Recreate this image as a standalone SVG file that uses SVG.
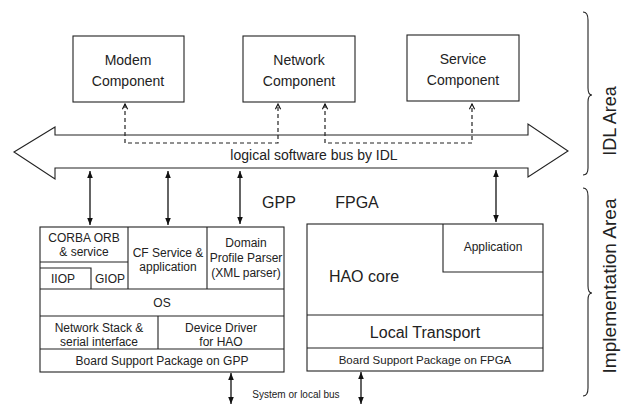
<svg xmlns="http://www.w3.org/2000/svg" width="630" height="406" viewBox="0 0 630 406">
<defs>
<marker id="fa" viewBox="0 0 10 8" refX="10" refY="4" markerWidth="7" markerHeight="6" markerUnits="userSpaceOnUse" orient="auto-start-reverse"><path d="M0,0 L10,4 L0,8 Z" fill="#111"/></marker>
<marker id="oa" viewBox="0 0 8 8" refX="7" refY="4" markerWidth="7" markerHeight="7" markerUnits="userSpaceOnUse" orient="auto-start-reverse"><path d="M1,1 L7,4 L1,7" fill="none" stroke="#111" stroke-width="1.3"/></marker>
</defs>
<style>
text{font-family:"Liberation Sans",Arial,sans-serif;fill:#222;text-anchor:middle}
.bx{fill:#fff;stroke:#222;stroke-width:1.1}
.ln{stroke:#222;stroke-width:1.1;fill:none}
.dl{stroke:#222;stroke-width:1.2;fill:none;stroke-dasharray:4,3}
.sl{stroke:#111;stroke-width:1.3;fill:none}
.t14{font-size:14px}
.t12{font-size:12px}
.t16{font-size:16px}
</style>
<rect width="630" height="406" fill="#fff"/>

<g id="bus">
<polygon class="bx" points="14,152 55,127 55,135 528,135 528,124 568,151 528,177 528,168 55,168 55,179"/>
<text class="t14" x="314" y="160">logical software bus by IDL</text>
</g>

<g id="modem">
<rect class="bx" x="73" y="36" width="111" height="66"/>
<text class="t14" x="128" y="65">Modem</text>
<text class="t14" x="128" y="86">Component</text>
</g>
<g id="network">
<rect class="bx" x="243" y="36" width="112" height="66"/>
<text class="t14" x="299" y="65">Network</text>
<text class="t14" x="299" y="86">Component</text>
</g>
<g id="service">
<rect class="bx" x="407" y="35" width="112" height="66"/>
<text class="t14" x="463" y="64">Service</text>
<text class="t14" x="463" y="85">Component</text>
</g>

<g id="gpp">
<rect class="bx" x="40" y="227" width="244" height="145"/>
<path class="ln" d="M40,262 H128 M40,268 H91 V289 M128,227 V289 M207,227 V289 M40,289 H284 M40,316 H284 M158,316 V349 M40,349 H284"/>
<text class="t12" x="84" y="242">CORBA ORB</text>
<text class="t12" x="84" y="256">&amp; service</text>
<text class="t12" x="63" y="283">IIOP</text>
<text class="t12" x="110" y="283">GIOP</text>
<text class="t12" x="168" y="257">CF Service &amp;</text>
<text class="t12" x="168" y="271">application</text>
<text class="t12" x="246" y="247">Domain</text>
<text class="t12" x="246" y="262">Profile Parser</text>
<text class="t12" x="246" y="277">(XML parser)</text>
<text class="t12" x="162" y="307">OS</text>
<text class="t12" x="99" y="332">Network Stack &amp;</text>
<text class="t12" x="99" y="346">serial interface</text>
<text class="t12" x="221" y="332">Device Driver</text>
<text class="t12" x="221" y="346">for HAO</text>
<text class="t12" x="162" y="365">Board Support Package on GPP</text>
</g>

<g id="fpga">
<rect class="bx" x="307" y="224" width="236" height="147"/>
<path class="ln" d="M443,224 V272 H543 M307,315 H543 M307,348 H543"/>
<text class="t12" x="493" y="251">Application</text>
<text class="t16" x="364" y="282">HAO core</text>
<text class="t16" x="425" y="338">Local Transport</text>
<text style="font-size:11.5px" x="425" y="364">Board Support Package on FPGA</text>
</g>

<g id="labels">
<text class="t16" x="279" y="208">GPP</text>
<text class="t16" x="357" y="208">FPGA</text>
<text style="font-size:10px" x="296" y="398">System or local bus</text>
</g>

<g id="areas">
<path class="ln" d="M583,12 Q588,12 588,20 V88 Q588,95 592,95 Q588,95 588,102 V168 Q588,175 583,175"/>
<text style="font-size:18px" transform="translate(616,121) rotate(-90)">IDL Area</text>
<path class="ln" d="M583,188 Q588,188 588,196 V286 Q588,293 592,293 Q588,293 588,300 V388 Q588,396 583,396"/>
<text style="font-size:18px" transform="translate(616,286) rotate(-90)" textLength="175" lengthAdjust="spacingAndGlyphs">Implementation Area</text>
</g>

<g id="connectors">
<path class="dl" d="M125,104 V143 H278 V104" marker-start="url(#oa)" marker-end="url(#oa)"/>
<path class="dl" d="M325,104 V143 H472 V104" marker-start="url(#oa)" marker-end="url(#oa)"/>
<path class="sl" d="M90,171 V225" marker-start="url(#fa)" marker-end="url(#fa)"/>
<path class="sl" d="M168,171 V225" marker-start="url(#fa)" marker-end="url(#fa)"/>
<path class="sl" d="M240,171 V224" marker-start="url(#fa)" marker-end="url(#fa)"/>
<path class="sl" d="M496,170 V222" marker-start="url(#fa)" marker-end="url(#fa)"/>
<path class="sl" d="M231,373 V404" marker-start="url(#fa)" marker-end="url(#fa)"/>
<path class="sl" d="M361,372 V404" marker-start="url(#fa)" marker-end="url(#fa)"/>
</g>
</svg>
